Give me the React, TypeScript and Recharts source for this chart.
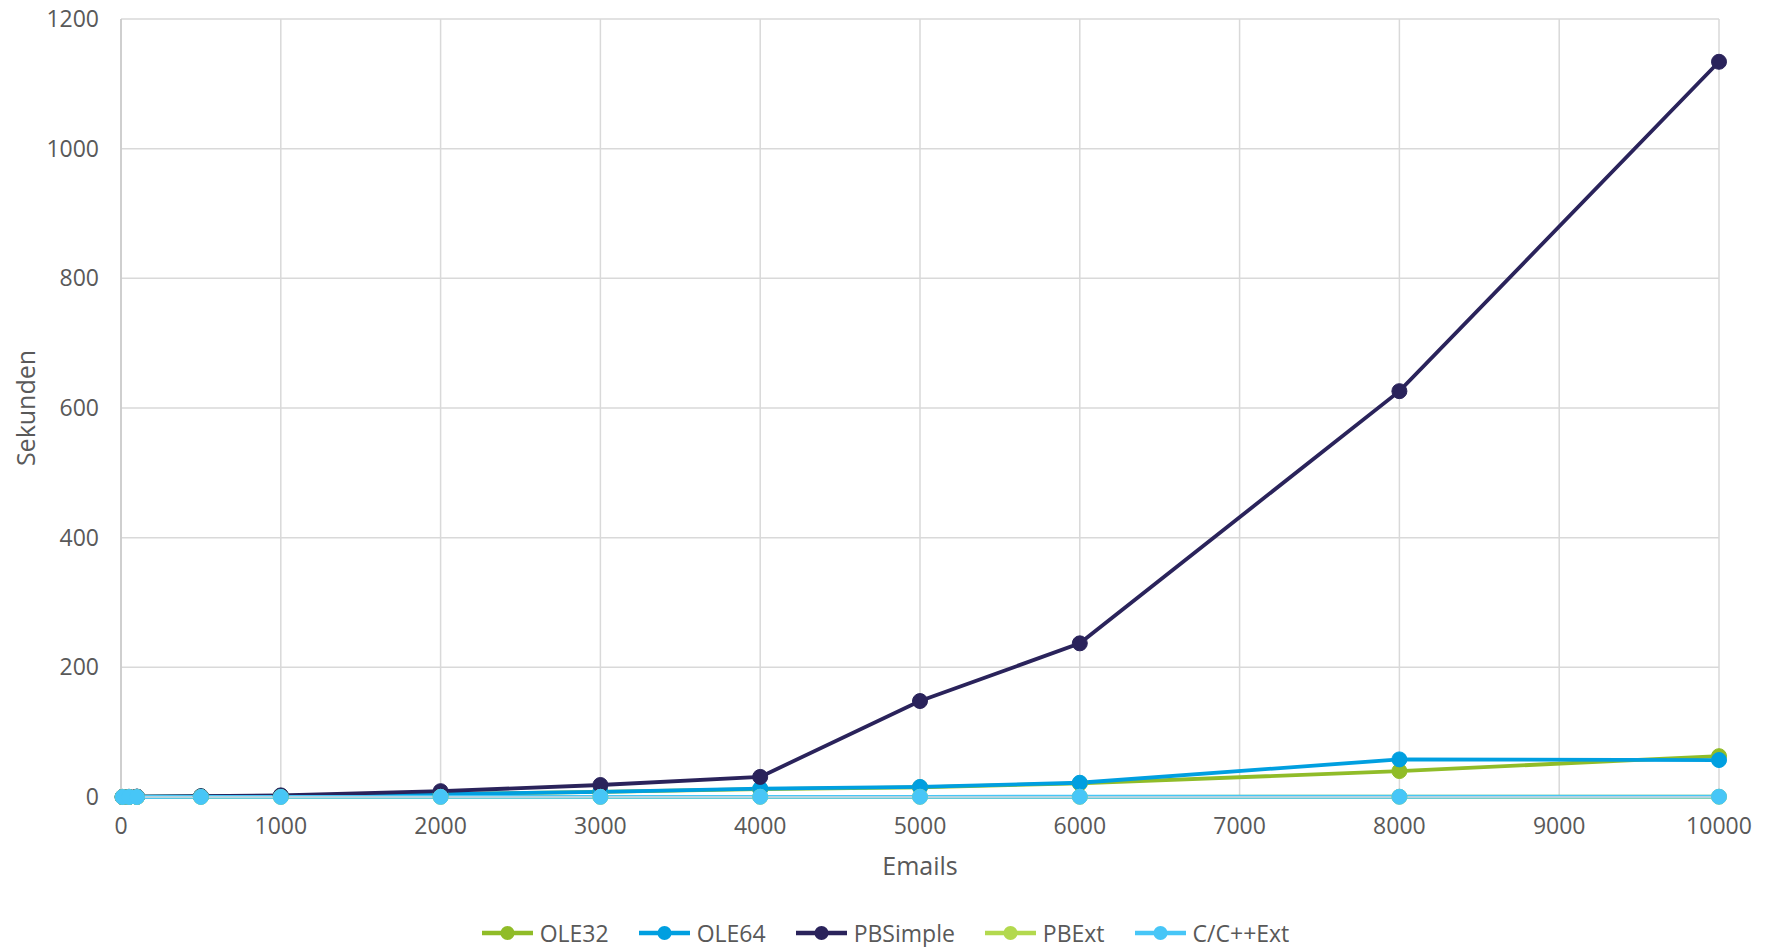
import React from "react"
import {
  LineChart,
  Line,
  XAxis,
  YAxis,
  CartesianGrid,
} from "recharts"

document.body.style.margin = "0"

// Emails processed (x) vs. seconds (y)
const emails = [10, 50, 100, 500, 1000, 2000, 3000, 4000, 5000, 6000, 8000, 10000]
const ole32 = [0.1, 0.2, 0.4, 1, 1.8, 4.5, 8, 12, 15, 21, 40, 63]
const ole64 = [0.1, 0.2, 0.4, 1, 1.8, 4.5, 8, 13, 15.5, 22, 58, 57]
const pbSimple = [0.1, 0.3, 0.6, 1.2, 2.5, 9, 18.5, 31, 148, 237, 626, 1134]
const pbExt = [0, 0, 0, 0.1, 0.1, 0.2, 0.2, 0.3, 0.3, 0.3, 0.4, 0.4]
const cExt = [0, 0, 0, 0.1, 0.1, 0.2, 0.2, 0.3, 0.3, 0.4, 0.4, 0.5]

const xTicks = [0, 1000, 2000, 3000, 4000, 5000, 6000, 7000, 8000, 9000, 10000]
const yTicks = [0, 200, 400, 600, 800, 1000, 1200]

const series = [
  { key: "ole32", name: "OLE32", color: "#90bc28", values: ole32 },
  { key: "ole64", name: "OLE64", color: "#009fe0", values: ole64 },
  { key: "pbSimple", name: "PBSimple", color: "#2a235b", values: pbSimple },
  { key: "pbExt", name: "PBExt", color: "#b3d94e", values: pbExt },
  { key: "cExt", name: "C/C++Ext", color: "#47c6f7", values: cExt },
]

const chartData = emails.map((x, i) => {
  const row: Record<string, number> = { x }
  series.forEach((s) => {
    row[s.key] = s.values[i]
  })
  return row
})

const FONT = "'Open Sans', 'Noto Sans', sans-serif"
const TEXT = "#595959"

const YTitle = ({ viewBox }: any) => {
  const cx = viewBox.x + 25
  const cy = viewBox.y + viewBox.height / 2
  return (
    <text
      x={cx}
      y={cy}
      transform={`rotate(-90, ${cx}, ${cy})`}
      textAnchor="middle"
      dominantBaseline="central"
      fill={TEXT}
      fontSize={25}
      fontFamily={FONT}
    >
      Sekunden
    </text>
  )
}

export default function App() {
  return (
    <div style={{ position: "relative", width: 1771, height: 947, background: "#fff" }}>
      <LineChart
        width={1771}
        height={947}
        data={chartData}
        margin={{ top: 19, right: 52, left: 0, bottom: 70 }}
      >
        <CartesianGrid stroke="#d9d9d9" strokeWidth={1.5} />
        <XAxis
          dataKey="x"
          type="number"
          domain={[0, 10000]}
          ticks={xTicks}
          height={80}
          tickSize={0}
          tickMargin={21}
          tickLine={false}
          axisLine={{ stroke: "#d9d9d9", strokeWidth: 1.5 }}
          tick={{ fill: TEXT, fontSize: 23, fontFamily: FONT }}
          label={{
            value: "Emails",
            position: "insideBottom",
            offset: 2,
            fill: TEXT,
            fontSize: 25,
            fontFamily: FONT,
          }}
        />
        <YAxis
          type="number"
          domain={[0, 1200]}
          ticks={yTicks}
          width={121}
          tickSize={0}
          tickMargin={22}
          tickLine={false}
          axisLine={{ stroke: "#c8c8c8", strokeWidth: 1.5 }}
          tick={{ fill: TEXT, fontSize: 23, fontFamily: FONT }}
          label={<YTitle />}
        />
        {series.map((s) => (
          <Line
            key={s.key}
            type="linear"
            dataKey={s.key}
            name={s.name}
            stroke={s.color}
            strokeWidth={3.8}
            dot={{ r: 7.5, fill: s.color, stroke: s.color, strokeWidth: 1 }}
            activeDot={false}
            isAnimationActive={false}
          />
        ))}
      </LineChart>

      {/* Legend */}
      <div
        style={{
          position: "absolute",
          top: 919,
          left: 0,
          width: 1771,
          display: "flex",
          justifyContent: "center",
          alignItems: "center",
          gap: 30,
          fontFamily: FONT,
          fontSize: 23,
          color: TEXT,
          lineHeight: "28px",
        }}
      >
        {series.map((s) => (
          <div key={s.key} style={{ display: "flex", alignItems: "center", gap: 7 }}>
            <svg width={51} height={18}>
              <line x1={0} y1={9} x2={51} y2={9} stroke={s.color} strokeWidth={4.5} />
              <circle cx={25.5} cy={9} r={7} fill={s.color} />
            </svg>
            <span>{s.name}</span>
          </div>
        ))}
      </div>
    </div>
  )
}
